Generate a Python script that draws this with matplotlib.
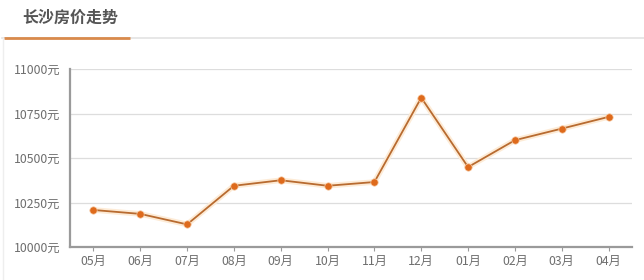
import matplotlib
matplotlib.use("Agg")
import matplotlib.pyplot as plt
import matplotlib.patheffects as pe
from matplotlib.lines import Line2D

plt.rcParams['font.family'] = ['Noto Sans CJK SC', 'DejaVu Sans']

months = ["05月", "06月", "07月", "08月", "09月", "10月", "11月", "12月", "01月", "02月", "03月", "04月"]
prices = [10208, 10186, 10127, 10344, 10375, 10344, 10365, 10839, 10449, 10600, 10665, 10731]
yticks = [10000, 10250, 10500, 10750, 11000]
ytick_labels = ["10000元", "10250元", "10500元", "10750元", "11000元"]
title = "长沙房价走势"

fig = plt.figure(figsize=(6.44, 2.8), dpi=100)
fig.patch.set_facecolor("white")

# title and underline
fig.text(22/644, 1 - 18/280, title, fontsize=11.5, fontweight="bold", color="#555555",
         va="center", ha="left")
fig.add_artist(Line2D([2/644, 1.0], [1 - 38/280, 1 - 38/280], color="#e3e3e3", lw=1.2,
                      transform=fig.transFigure))
fig.add_artist(Line2D([4/644, 130/644], [1 - 38/280, 1 - 38/280], color="#d98a4c", lw=2,
                      transform=fig.transFigure, solid_capstyle="butt"))
fig.add_artist(Line2D([3/644, 3/644], [0, 1 - 38/280], color="#eeeeee", lw=1,
                      transform=fig.transFigure))

ax = fig.add_axes([70/644, 33/280, 562/644, 178/280])
x = list(range(len(months)))
ax.plot(x, prices, color="#b86b30", lw=1.3, zorder=3,
        path_effects=[pe.Stroke(linewidth=4, foreground="#fdebd6"), pe.Normal()])
ax.scatter(x, prices, s=28, color="#de6a1c", zorder=4, edgecolors="#f6c9a2", linewidths=0.5)

ax.set_xlim(-0.5, len(months) - 0.5)
ax.set_ylim(10000, 11000)
ax.set_yticks(yticks)
ax.set_yticklabels(ytick_labels)
ax.set_xticks(x)
ax.set_xticklabels(months)
ax.grid(axis="y", color="#dddddd", lw=0.9)
ax.set_axisbelow(True)
for s in ["top", "right"]:
    ax.spines[s].set_visible(False)
for s in ["left", "bottom"]:
    ax.spines[s].set_color("#9a9a9a")
    ax.spines[s].set_linewidth(1.6)
ax.tick_params(axis="y", length=0, pad=7, labelsize=8.8, labelcolor="#6e6e6e")
ax.tick_params(axis="x", length=3, color="#9a9a9a", pad=3, labelsize=8.8, labelcolor="#6e6e6e")

fig.savefig("out.png", dpi=100)
